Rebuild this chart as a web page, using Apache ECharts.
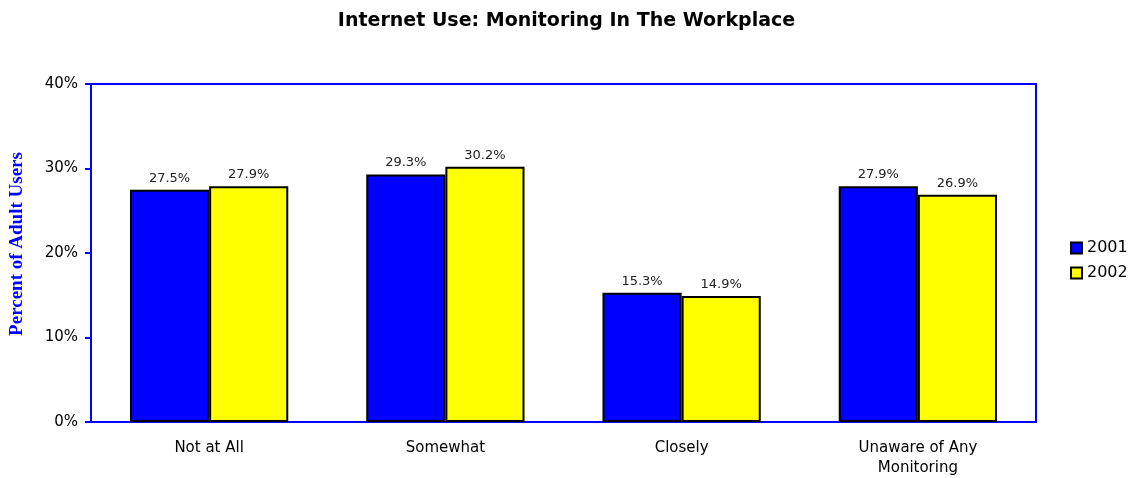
<!DOCTYPE html>
<html><head><meta charset="utf-8">
<script src="https://cdn.jsdelivr.net/npm/echarts@6/dist/echarts.min.js"></script>
<style>html,body{margin:0;padding:0;background:#fff}#c{width:1133px;height:478px}</style>
</head><body><div id="c"></div>
<script>
const categories = ['Not at All', 'Somewhat', 'Closely', 'Unaware of Any\nMonitoring'];
const values2001 = [27.5, 29.3, 15.3, 27.9];
const values2002 = [27.9, 30.2, 14.9, 26.9];
const seriesNames = ['2001', '2002'];
const yTicks = [0, 10, 20, 30, 40];
const yAxisTitle = 'Percent of Adult Users';

const chart = echarts.init(document.getElementById('c'));
const font = '"DejaVu Sans", Verdana, sans-serif';
const lbl = {show: true, position: 'top', distance: 5, formatter: p => p.value.toFixed(1) + '%', fontFamily: font, fontSize: 13, color: '#222'};
chart.setOption({
  animation: false,
  title: {text: 'Internet Use: Monitoring In The Workplace', left: 'center', top: 7,
    textStyle: {fontFamily: font, fontSize: 19, fontWeight: 'bold', color: '#000'}},
  legend: {orient: 'vertical', left: 1065, top: 235, itemWidth: 11, itemHeight: 11, itemGap: 9, icon: 'rect',
    textStyle: {fontFamily: font, fontSize: 16, color: '#000'}, data: seriesNames},
  graphic: [{type: 'text', x: 17, y: 244, rotation: Math.PI / 2,
    style: {text: yAxisTitle, fill: '#0000ff', font: 'bold 19px "Liberation Serif", serif', align: 'center', verticalAlign: 'middle'}}],
  grid: {left: 91, right: 97, top: 84, bottom: 56, show: true, borderColor: '#0000ff', borderWidth: 2, outerBoundsMode: 'none', containLabel: false},
  xAxis: {type: 'category', data: categories,
    axisLine: {lineStyle: {color: '#0000ff', width: 2}}, axisTick: {show: false},
    axisLabel: {fontFamily: font, fontSize: 15, color: '#000', margin: 16, lineHeight: 20}},
  yAxis: {type: 'value', min: yTicks[0], max: yTicks[yTicks.length - 1], interval: 10,
    axisLine: {show: true, lineStyle: {color: '#0000ff', width: 2}},
    axisTick: {show: true, length: 6, lineStyle: {color: '#0000ff', width: 2}},
    splitLine: {show: false},
    axisLabel: {fontFamily: font, fontSize: 15, color: '#000', margin: 13, formatter: v => v + '%'}},
  series: [
    {name: seriesNames[0], type: 'bar', data: values2001, barGap: '0%', barCategoryGap: '33%',
      itemStyle: {color: '#0000ff', borderColor: '#000', borderWidth: 2}, label: lbl},
    {name: seriesNames[1], type: 'bar', data: values2002,
      itemStyle: {color: '#ffff00', borderColor: '#000', borderWidth: 2}, label: lbl}
  ]
});
</script></body></html>
